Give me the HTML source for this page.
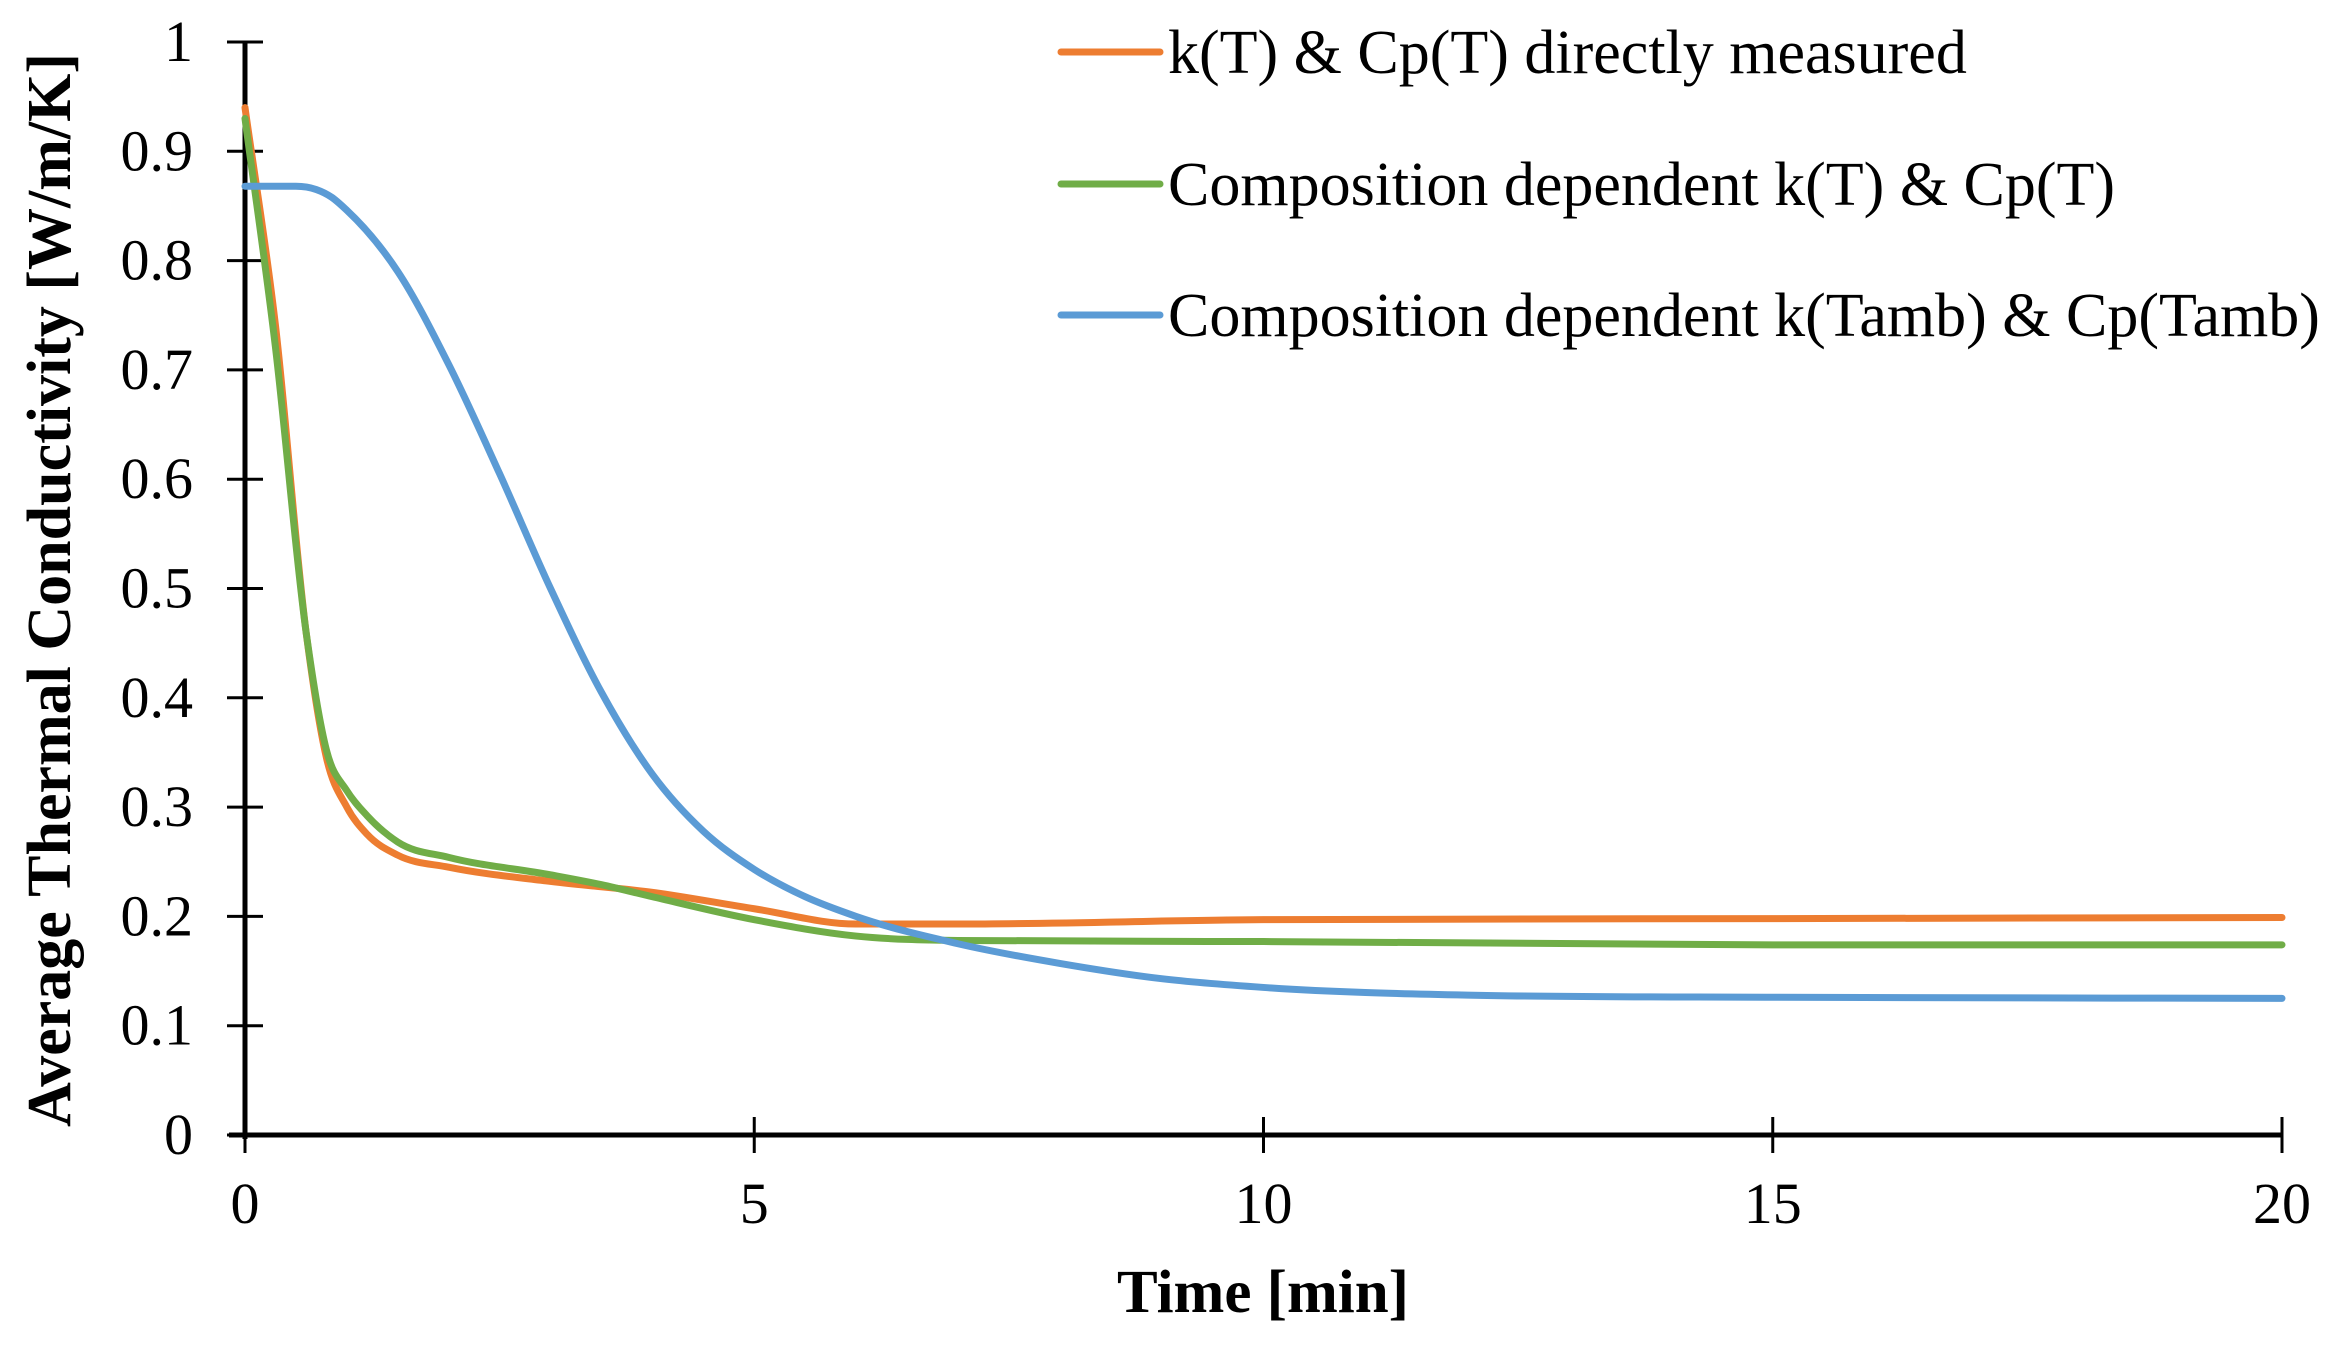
<!DOCTYPE html>
<html><head><meta charset="utf-8"><style>
html,body{margin:0;padding:0;background:#fff;}
svg{display:block;font-family:"Liberation Serif",serif;}
</style></head><body>
<svg id="chart" width="2340" height="1353" viewBox="0 0 2340 1353">
<g id="axes"></g>
<g id="series"></g>
<g id="legend"></g>
<text x="0" y="0" transform="translate(70,590) rotate(-90)" text-anchor="middle" font-size="62" font-weight="bold">Average Thermal Conductivity [W/m/K]</text>
<text x="1263" y="1312" text-anchor="middle" font-size="61" font-weight="bold">Time [min]</text>
</svg>
<script>
const xTicks=[0,5,10,15,20];
const yTicks=[0,0.1,0.2,0.3,0.4,0.5,0.6,0.7,0.8,0.9,1];
const yTickLabels=["0","0.1","0.2","0.3","0.4","0.5","0.6","0.7","0.8","0.9","1"];
const seriesNames=["k(T) & Cp(T) directly measured","Composition dependent k(T) & Cp(T)","Composition dependent k(Tamb) & Cp(Tamb)"];
const orangeT=[0,0.3,0.6,0.8,1,1.2,1.5,2,3,4,5,6,7,10,15,20];
const orangeV=[0.94,0.74,0.46,0.345,0.30,0.275,0.256,0.245,0.232,0.222,0.207,0.193,0.193,0.197,0.198,0.199];
const greenT=[0,0.3,0.6,0.8,1,1.2,1.5,2,3,3.5,4,5,6,7,10,15,20];
const greenV=[0.93,0.72,0.46,0.352,0.315,0.292,0.268,0.254,0.238,0.229,0.218,0.197,0.182,0.178,0.177,0.174,0.174];
const blueT=[0,0.5,0.7,0.85,1,1.5,2,2.5,3,3.5,4,4.5,5,5.5,6,7,8,9,10,12,15,20];
const blueV=[0.868,0.868,0.865,0.858,0.846,0.79,0.705,0.605,0.5,0.405,0.33,0.278,0.243,0.218,0.2,0.175,0.157,0.143,0.135,0.128,0.126,0.125];
const X0=245,X1=2282,Y0=1135,Y1=42;
function sx(t){return X0+(t-xTicks[0])/(xTicks[xTicks.length-1]-xTicks[0])*(X1-X0);}
function sy(v){return Y0-(v-0)/(1-0)*(Y0-Y1);}
const NS="http://www.w3.org/2000/svg";
function mk(tag,attrs,parent){const e=document.createElementNS(NS,tag);for(const k in attrs)e.setAttribute(k,attrs[k]);parent.appendChild(e);return e;}
const axes=document.getElementById('axes');
let e=mk('line',{x1:X0,y1:Y1,x2:X0,y2:Y0+4,stroke:'#000','stroke-width':5},axes);


e=mk('line',{x1:X0-16,y1:Y0,x2:X1,y2:Y0,stroke:'#000','stroke-width':5},axes);


yTicks.forEach((v,i)=>{
 let t=mk('line',{x1:X0-18,y1:sy(v),x2:X0+18,y2:sy(v),stroke:'#000','stroke-width':3},axes);
 
 
 let l=mk('text',{x:X0-52,y:sy(v)+19,'text-anchor':'end','font-size':58},axes);
 l.textContent=yTickLabels[i];
 
 
});
xTicks.forEach(v=>{
 let t=mk('line',{x1:sx(v),y1:Y0-18,x2:sx(v),y2:Y0+18,stroke:'#000','stroke-width':3},axes);
 
 
 let l=mk('text',{x:sx(v),y:Y0+88,'text-anchor':'middle','font-size':58},axes);
 l.textContent=String(v);
 
 
});
function pathFor(T,V){
 const n=T.length,d=[],m=new Array(n);
 for(let i=0;i<n-1;i++)d.push((V[i+1]-V[i])/(T[i+1]-T[i]));
 m[0]=d[0];m[n-1]=d[n-2];
 for(let i=1;i<n-1;i++){
  if(d[i-1]*d[i]<=0){m[i]=0;continue;}
  const h0=T[i]-T[i-1],h1=T[i+1]-T[i];
  m[i]=(d[i-1]*h1+d[i]*h0)/(h0+h1);
 }
 for(let i=0;i<n-1;i++){
  if(d[i]===0){m[i]=0;m[i+1]=0;continue;}
  const a=m[i]/d[i],b=m[i+1]/d[i],s=a*a+b*b;
  if(s>9){const tt=3/Math.sqrt(s);m[i]=tt*a*d[i];m[i+1]=tt*b*d[i];}
 }
 let p='M'+sx(T[0])+','+sy(V[0]);
 for(let i=0;i<n-1;i++){
  const h=T[i+1]-T[i];
  p+=' C'+sx(T[i]+h/3)+','+sy(V[i]+m[i]*h/3)+' '+sx(T[i+1]-h/3)+','+sy(V[i+1]-m[i+1]*h/3)+' '+sx(T[i+1])+','+sy(V[i+1]);
 }
 return p;
}
const series=document.getElementById('series');
const colors=['#ED7D31','#70AD47','#5B9BD5'];
const names=['orange-line','green-line','blue-line'];
[[orangeT,orangeV],[greenT,greenV],[blueT,blueV]].forEach((s,i)=>{
 let p=mk('path',{d:pathFor(s[0],s[1]),fill:'none',stroke:colors[i],'stroke-width':7,'stroke-linejoin':'round','stroke-linecap':'round'},series);
 
 
});
const legend=document.getElementById('legend');
const ly=[52,184,315];
seriesNames.forEach((n,i)=>{
 let l=mk('line',{x1:1061,y1:ly[i],x2:1160,y2:ly[i],stroke:colors[i],'stroke-width':7,'stroke-linecap':'round'},legend);
 
 
 let t=mk('text',{x:1168,y:ly[i]+21,'font-size':62},legend);
 t.textContent=n;
 
 
});
</script>
</body></html>
